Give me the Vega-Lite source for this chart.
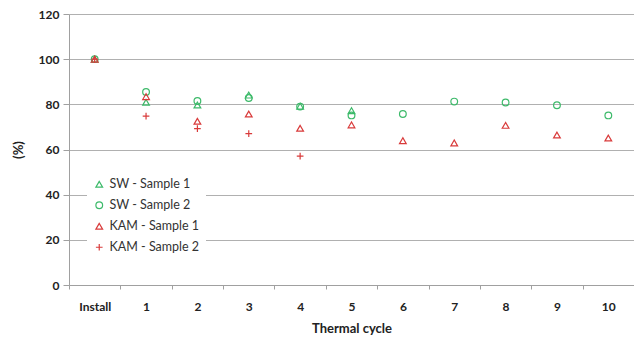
{
  "$schema": "https://vega.github.io/schema/vega-lite/v6.json",
  "width": 565,
  "height": 271,
  "autosize": {"type": "none"},
  "padding": {"left": 69, "top": 14, "right": 0, "bottom": 55},
  "background": "white",
  "config": {
    "view": {"stroke": null},
    "font": "Lato"
  },
  "data": {
    "values": [
      {"cycle": "Install", "series": "SW - Sample 1", "value": 100},
      {"cycle": "1", "series": "SW - Sample 1", "value": 80.9},
      {"cycle": "2", "series": "SW - Sample 1", "value": 79.7},
      {"cycle": "3", "series": "SW - Sample 1", "value": 84.1},
      {"cycle": "4", "series": "SW - Sample 1", "value": 79.2},
      {"cycle": "5", "series": "SW - Sample 1", "value": 77.2},
      {"cycle": "Install", "series": "SW - Sample 2", "value": 100},
      {"cycle": "1", "series": "SW - Sample 2", "value": 85.5},
      {"cycle": "2", "series": "SW - Sample 2", "value": 81.5},
      {"cycle": "3", "series": "SW - Sample 2", "value": 82.8},
      {"cycle": "4", "series": "SW - Sample 2", "value": 79.0},
      {"cycle": "5", "series": "SW - Sample 2", "value": 75.1},
      {"cycle": "6", "series": "SW - Sample 2", "value": 75.7},
      {"cycle": "7", "series": "SW - Sample 2", "value": 81.2},
      {"cycle": "8", "series": "SW - Sample 2", "value": 80.8},
      {"cycle": "9", "series": "SW - Sample 2", "value": 79.6},
      {"cycle": "10", "series": "SW - Sample 2", "value": 75.1},
      {"cycle": "Install", "series": "KAM - Sample 1", "value": 100},
      {"cycle": "1", "series": "KAM - Sample 1", "value": 83.4},
      {"cycle": "2", "series": "KAM - Sample 1", "value": 72.5},
      {"cycle": "3", "series": "KAM - Sample 1", "value": 75.7},
      {"cycle": "4", "series": "KAM - Sample 1", "value": 69.4},
      {"cycle": "5", "series": "KAM - Sample 1", "value": 70.9},
      {"cycle": "6", "series": "KAM - Sample 1", "value": 63.9},
      {"cycle": "7", "series": "KAM - Sample 1", "value": 62.9},
      {"cycle": "8", "series": "KAM - Sample 1", "value": 70.7},
      {"cycle": "9", "series": "KAM - Sample 1", "value": 66.4},
      {"cycle": "10", "series": "KAM - Sample 1", "value": 65.1},
      {"cycle": "Install", "series": "KAM - Sample 2", "value": 100},
      {"cycle": "1", "series": "KAM - Sample 2", "value": 74.8},
      {"cycle": "2", "series": "KAM - Sample 2", "value": 69.2},
      {"cycle": "3", "series": "KAM - Sample 2", "value": 67.0},
      {"cycle": "4", "series": "KAM - Sample 2", "value": 57.1}
    ]
  },
  "mark": {"type": "point", "filled": false, "strokeWidth": 1.2, "opacity": 1},
  "encoding": {
    "x": {
      "field": "cycle",
      "type": "ordinal",
      "sort": ["Install", "1", "2", "3", "4", "5", "6", "7", "8", "9", "10"],
      "scale": {"paddingInner": 0, "paddingOuter": 0},
      "axis": {
        "title": "Thermal cycle",
        "labelAngle": 0,
        "labelFontSize": 12,
        "labelFontWeight": "bold",
        "labelColor": "#222",
        "labelPadding": 12,
        "tickBand": "extent",
        "tickSize": 4,
        "tickColor": "#a0a0a0",
        "domainColor": "#a0a0a0",
        "titleFontSize": 13,
        "titleFontWeight": "bold",
        "titleColor": "#222",
        "titlePadding": 10,
        "grid": false
      }
    },
    "y": {
      "field": "value",
      "type": "quantitative",
      "scale": {"domain": [0, 120]},
      "axis": {
        "title": "(%)",
        "values": [0, 20, 40, 60, 80, 100, 120],
        "labelFontSize": 12,
        "labelFontWeight": "bold",
        "labelColor": "#222",
        "labelPadding": 4,
        "tickSize": 6,
        "tickColor": "#a0a0a0",
        "domainColor": "#a0a0a0",
        "gridColor": "#b0b0b0",
        "titleFontSize": 13,
        "titleFontWeight": "bold",
        "titleColor": "#222",
        "titlePadding": 13
      }
    },
    "color": {
      "field": "series",
      "type": "nominal",
      "scale": {
        "domain": ["SW - Sample 1", "SW - Sample 2", "KAM - Sample 1", "KAM - Sample 2"],
        "range": ["#3dba6a", "#3dba6a", "#d93b3b", "#d93b3b"]
      },
      "legend": {
        "title": null,
        "orient": "none",
        "legendX": 18,
        "legendY": 158,
        "fillColor": "white",
        "padding": 6,
        "labelFontSize": 12.5,
        "labelColor": "#333",
        "rowPadding": 8,
        "symbolSize": 45,
        "symbolStrokeWidth": 1.2
      }
    },
    "shape": {
      "field": "series",
      "type": "nominal",
      "scale": {
        "domain": ["SW - Sample 1", "SW - Sample 2", "KAM - Sample 1", "KAM - Sample 2"],
        "range": ["triangle-up", "circle", "triangle-up", "M-1,0L1,0M0,-1L0,1"]
      }
    },
    "size": {"value": 45}
  }
}
